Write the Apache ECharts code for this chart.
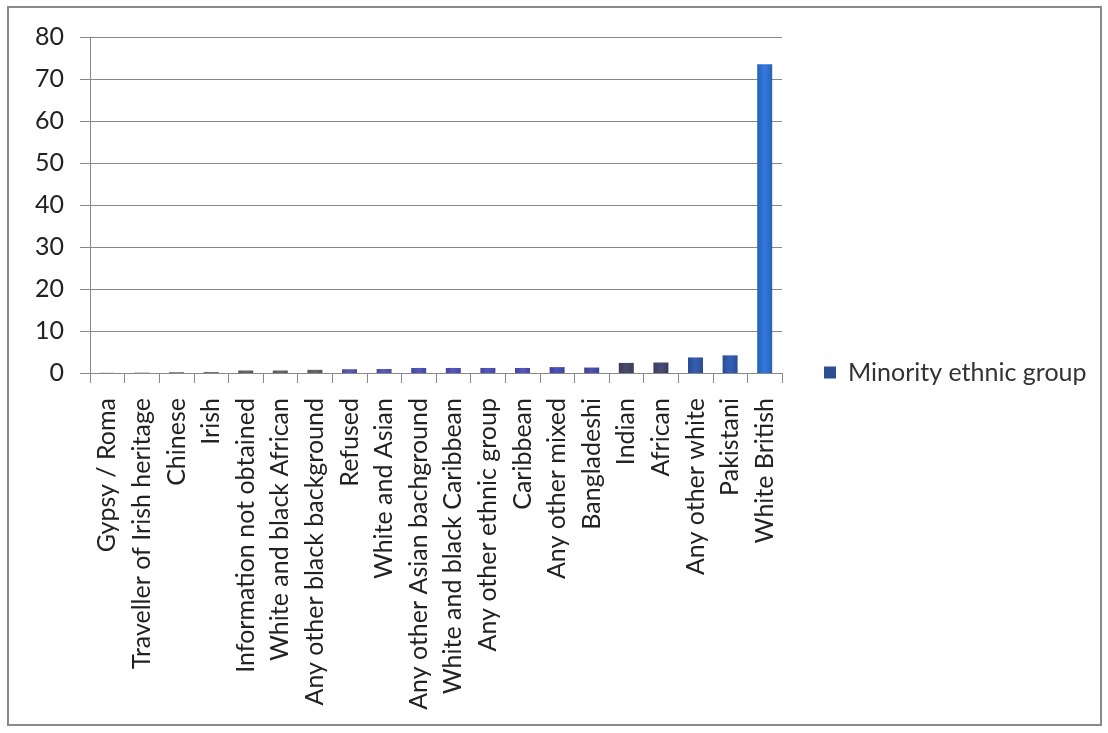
<!DOCTYPE html>
<html>
<head>
<meta charset="utf-8">
<script src="https://cdn.jsdelivr.net/npm/echarts@6/dist/echarts.min.js"></script>
<style>
html,body{margin:0;padding:0;background:#fff;}
#c{width:1108px;height:733px;}
</style>
</head>
<body>
<div id="c"></div>
<script>
var categories = ["Gypsy / Roma","Traveller of Irish heritage","Chinese","Irish","Information not obtained","White and black African","Any other black background","Refused","White and Asian","Any other Asian bachground","White and black Caribbean","Any other ethnic group","Caribbean","Any other mixed","Bangladeshi","Indian","African","Any other white","Pakistani","White British"];
var values = [0.05,0.1,0.2,0.25,0.6,0.6,0.75,0.9,0.95,1.2,1.2,1.2,1.2,1.4,1.3,2.4,2.5,3.7,4.2,73.5];
var yTicks = [0,10,20,30,40,50,60,70,80];
var seriesName = "Minority ethnic group";

var palette = ['#777','#777','#666','#666','#555','#555','#555','#4a4a96','#4a4a9c','#45459e','#45459e','#45459e','#45459e','#3e429a','#3e4290','#3c3c58','#3c3c60','#2a4c90','#2a4c96','#2862b4'];
function grad(c){
  return new echarts.graphic.LinearGradient(0,0,1,0,[
    {offset:0,color:c},{offset:0.5,color:echarts.color.lift(c,-0.25)},{offset:1,color:c}]);
}
var chart = echarts.init(document.getElementById('c'));
chart.setOption({
  animation:false,
  backgroundColor:'#fff',
  graphic:[{type:'rect',shape:{x:8,y:7,width:1093,height:718},style:{fill:'none',stroke:'#8a8a8a',lineWidth:2}}],
  legend:{
    data:[seriesName],left:819,top:355,itemWidth:12,itemHeight:12,
    textStyle:{fontFamily:'Lato',fontSize:25,color:'#333',padding:[0,0,0,7]},
    icon:'rect'
  },
  grid:{left:90,right:326,top:37,bottom:360,containLabel:false},
  xAxis:{
    type:'category',data:categories,
    axisLine:{lineStyle:{color:'#888',width:1}},
    axisTick:{show:true,length:10,alignWithLabel:false,lineStyle:{color:'#888'}},
    axisLabel:{rotate:90,interval:0,margin:25,fontFamily:'Lato',fontSize:25,color:'#222'}
  },
  yAxis:{
    type:'value',min:0,max:80,interval:10,
    axisLine:{show:true,lineStyle:{color:'#888'}},
    axisTick:{show:true,length:10,lineStyle:{color:'#888'}},
    splitLine:{lineStyle:{color:'#888'}},
    axisLabel:{margin:26,fontFamily:'Lato',fontSize:25,color:'#222',
      formatter:function(v){return yTicks.indexOf(v)>=0?String(v):'';}}
  },
  series:[{
    name:seriesName,type:'bar',data:values,barWidth:15,
    itemStyle:{color:function(p){return grad(palette[p.dataIndex]);}}
  }],
  color:['#2c4f8f']
});
</script>
</body>
</html>
